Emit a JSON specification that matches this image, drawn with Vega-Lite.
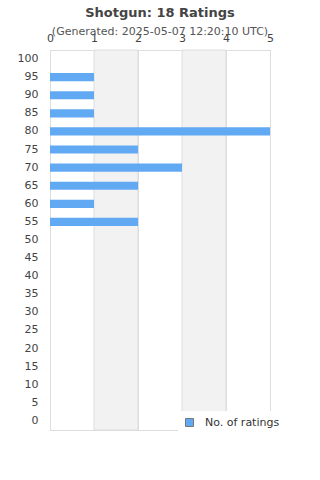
{
  "$schema": "https://vega.github.io/schema/vega-lite/v6.json",
  "width": 220,
  "height": 380,
  "autosize": {"type": "none"},
  "padding": {"left": 50, "top": 50, "right": 50, "bottom": 50},
  "background": "white",
  "title": {
    "text": "Shotgun: 18 Ratings",
    "subtitle": "(Generated: 2025-05-07 12:20:10 UTC)",
    "font": "DejaVu Sans",
    "fontSize": 13,
    "fontWeight": "bold",
    "color": "#444444",
    "subtitleFont": "DejaVu Sans",
    "subtitleFontSize": 11,
    "subtitleColor": "#555555",
    "subtitlePadding": 6,
    "anchor": "middle",
    "offset": -5
  },
  "config": {
    "view": {"stroke": "#dddddd"},
    "font": "DejaVu Sans"
  },
  "datasets": {
    "bands": [{"x": 1, "x2": 2}, {"x": 3, "x2": 4}],
    "ratings": [
      {"rating": 95, "count": 1, "series": "No. of ratings"},
      {"rating": 90, "count": 1, "series": "No. of ratings"},
      {"rating": 85, "count": 1, "series": "No. of ratings"},
      {"rating": 80, "count": 5, "series": "No. of ratings"},
      {"rating": 75, "count": 2, "series": "No. of ratings"},
      {"rating": 70, "count": 3, "series": "No. of ratings"},
      {"rating": 65, "count": 2, "series": "No. of ratings"},
      {"rating": 60, "count": 1, "series": "No. of ratings"},
      {"rating": 55, "count": 2, "series": "No. of ratings"}
    ]
  },
  "layer": [
    {
      "data": {"name": "bands"},
      "mark": {"type": "rect", "fill": "#f2f2f2", "stroke": "#dddddd", "strokeWidth": 1},
      "encoding": {
        "x": {
          "field": "x",
          "type": "quantitative",
          "scale": {"domain": [0, 5], "nice": false},
          "axis": {
            "orient": "top",
            "title": null,
            "values": [0, 1, 2, 3, 4, 5],
            "format": "d",
            "domain": false,
            "ticks": false,
            "grid": true,
            "gridColor": "#dddddd",
            "labelPadding": 7,
            "labelFontSize": 11,
            "labelColor": "#444444",
            "labelFont": "DejaVu Sans",
            "labelFlush": false
          }
        },
        "x2": {"field": "x2"}
      }
    },
    {
      "data": {"name": "ratings"},
      "mark": {"type": "bar"},
      "encoding": {
        "y": {
          "field": "rating",
          "type": "ordinal",
          "scale": {"domain": [100, 95, 90, 85, 80, 75, 70, 65, 60, 55, 50, 45, 40, 35, 30, 25, 20, 15, 10, 5, 0], "paddingInner": 0.55, "paddingOuter": 0.275},
          "axis": {
            "title": null,
            "domain": false,
            "ticks": false,
            "labelPadding": 12,
            "labelFontSize": 11,
            "labelColor": "#444444",
            "labelFont": "DejaVu Sans"
          }
        },
        "x": {
          "field": "count",
          "type": "quantitative"
        },
        "color": {
          "field": "series",
          "type": "nominal",
          "scale": {"range": ["#62a9f3"]},
          "legend": {
            "title": null,
            "orient": "none",
            "legendX": 128,
            "legendY": 361,
            "fillColor": "white",
            "padding": 6,
            "symbolType": "square",
            "symbolSize": 64,
            "symbolStrokeColor": "#777777",
            "symbolStrokeWidth": 1,
            "labelFontSize": 11,
            "labelColor": "#333333",
            "labelFont": "DejaVu Sans",
            "labelOffset": 10
          }
        }
      }
    }
  ]
}
